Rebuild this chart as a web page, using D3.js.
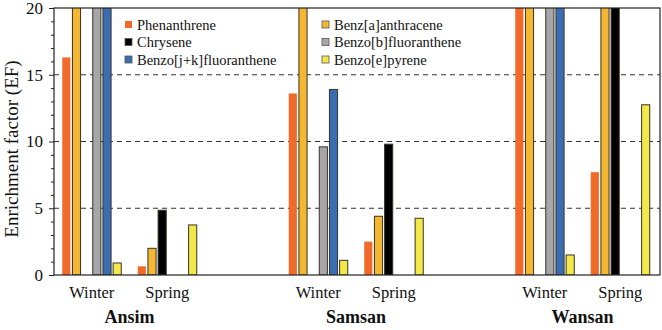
<!DOCTYPE html>
<meta charset="utf-8" />
<html>
<head>
    <style>
        body { margin: 0; background: #fff; }
    </style>
</head>
<body>
    <svg width="662" height="330"></svg>
    <script src="https://d3js.org/d3.v7.min.js"></script>
    <script>
        // sites and seasons along the x axis
        var sites = ["Ansim", "Samsan", "Wansan"];
        var seasons = ["Winter", "Spring"];
        var pahs = ["Phenanthrene", "Benz[a]anthracene", "Chrysene",
                    "Benzo[b]fluoranthene", "Benzo[j+k]fluoranthene", "Benzo[e]pyrene"];
        var colors = ["#f26a2a", "#f4b731", "#000000", "#a7a7aa", "#3a6eb2", "#f3e84a"];

        // values in order: Ansim W, Ansim S, Samsan W, Samsan S, Wansan W, Wansan S
        // (bars above 20 run off the top of the axis, exact value not readable)
        var phenanthrene = [16.3, 0.65, 13.6, 2.5, 24, 7.7];
        var benzAanthracene = [24, 2.0, 24, 4.4, 24, 24];
        var chrysene = [null, 4.85, null, 9.8, null, 24];
        var benzoBFluoranthene = [24, null, 9.6, null, 24, null];
        var benzoJKFluoranthene = [24, null, 13.9, null, 24, null];
        var benzoEPyrene = [0.9, 3.75, 1.1, 4.25, 1.5, 12.75];
        var series = [phenanthrene, benzAanthracene, chrysene,
                      benzoBFluoranthene, benzoJKFluoranthene, benzoEPyrene];

        var yTicks = [0, 5, 10, 15, 20];

        var serif = "Liberation Serif";
        var svg = d3.select("svg");
        var m = { left: 54, right: 660, top: 8, bottom: 275 };

        // 8 slots: W S gap W S gap W S
        var slots = [];
        sites.forEach(function (s, i) {
            seasons.forEach(function (se) { slots.push(s + "|" + se); });
            if (i < sites.length - 1) slots.push("gap" + i);
        });

        var x0 = d3.scaleBand().domain(slots).range([m.left, 658]);
        var x1 = d3.scaleBand().domain(pahs).range([-29.5, 29.5]).paddingInner(0.2);
        var y = d3.scaleLinear().domain([0, 20]).range([m.bottom, m.top]);

        svg.append("clipPath").attr("id", "plot")
            .append("rect").attr("x", m.left).attr("y", m.top)
            .attr("width", m.right - m.left).attr("height", m.bottom - m.top);

        // dashed grid
        svg.append("g").selectAll("line")
            .data(yTicks.filter(function (d) { return d > 0 && d < 20; }))
            .enter().append("line")
            .attr("x1", m.left).attr("x2", m.right)
            .attr("y1", function (d) { return y(d); })
            .attr("y2", function (d) { return y(d); })
            .attr("stroke", "#333").attr("stroke-width", 1)
            .attr("stroke-dasharray", "5,4");

        // bars
        var cells = [];
        series.forEach(function (vals, k) {
            vals.forEach(function (v, j) {
                if (v == null) return;
                var site = sites[Math.floor(j / 2)], season = seasons[j % 2];
                cells.push({ slot: site + "|" + season, pah: pahs[k], value: v, color: colors[k] });
            });
        });

        svg.append("g").attr("clip-path", "url(#plot)")
            .selectAll("rect").data(cells).enter().append("rect")
            .attr("x", function (d) { return x0(d.slot) + x0.bandwidth() / 2 + x1(d.pah); })
            .attr("width", x1.bandwidth())
            .attr("y", function (d) { return y(d.value); })
            .attr("height", function (d) { return y(0) - y(d.value); })
            .attr("fill", function (d) { return d.color; })
            .attr("stroke", function (d) { return d.pah === "Phenanthrene" ? "none" : "#3a3228"; })
            .attr("stroke-width", 1);

        // frame
        svg.append("rect")
            .attr("x", m.left).attr("y", m.top)
            .attr("width", m.right - m.left).attr("height", m.bottom - m.top)
            .attr("fill", "none").attr("stroke", "#222").attr("stroke-width", 1.2);

        // y axis: major ticks with labels, minor ticks every 1
        var yAxis = svg.append("g").attr("transform", "translate(" + m.left + ",0)");
        yAxis.call(d3.axisLeft(y).tickValues(yTicks).tickSize(5).tickPadding(6));
        yAxis.select(".domain").remove();
        yAxis.selectAll("line").attr("stroke", "#222");
        yAxis.selectAll("text").style("font-family", serif).style("font-size", "17px").attr("fill", "#111");

        var minor = d3.range(0, 21).filter(function (d) { return d % 5 !== 0; });
        svg.append("g").attr("transform", "translate(" + m.left + ",0)")
            .call(d3.axisLeft(y).tickValues(minor).tickSize(3).tickFormat(""))
            .call(function (g) { g.select(".domain").remove(); g.selectAll("line").attr("stroke", "#222"); });

        // season labels
        svg.append("g").selectAll("text")
            .data(slots.filter(function (s) { return s.indexOf("|") > 0; }))
            .enter().append("text")
            .attr("x", function (d) { return x0(d) + x0.bandwidth() / 2; })
            .attr("y", 298)
            .attr("text-anchor", "middle")
            .style("font-family", serif).style("font-size", "16.5px")
            .attr("fill", "#111")
            .text(function (d) { return d.split("|")[1]; });

        // site labels
        svg.append("g").selectAll("text")
            .data(sites).enter().append("text")
            .attr("x", function (d) { return (x0(d + "|Winter") + x0(d + "|Spring") + x0.bandwidth()) / 2; })
            .attr("y", 323)
            .attr("text-anchor", "middle")
            .style("font-family", serif).style("font-size", "18px").style("font-weight", "bold")
            .attr("fill", "#111")
            .text(function (d) { return d; });

        // y label
        svg.append("text")
            .attr("transform", "translate(18,149) rotate(-90)")
            .attr("text-anchor", "middle")
            .style("font-family", serif).style("font-size", "19px")
            .attr("fill", "#111")
            .text("Enrichment factor (EF)");

        // legend, two columns filled row by row
        var legend = svg.append("g").selectAll("g")
            .data(pahs).enter().append("g")
            .attr("transform", function (d, i) {
                return "translate(" + (i % 2 === 0 ? 125 : 322) + "," + (25 + Math.floor(i / 2) * 17.5) + ")";
            });
        legend.append("rect")
            .attr("x", 0).attr("y", -4).attr("width", 7).attr("height", 7)
            .attr("fill", function (d, i) { return colors[i]; })
            .attr("stroke", function (d, i) { return i === 0 ? "none" : "#555"; })
            .attr("stroke-width", 0.8);
        legend.append("text")
            .attr("x", 12).attr("y", 0).attr("dy", "0.33em")
            .style("font-family", serif).style("font-size", "14.5px")
            .attr("fill", "#111")
            .text(function (d) { return d; });
    </script>
</body>
</html>
